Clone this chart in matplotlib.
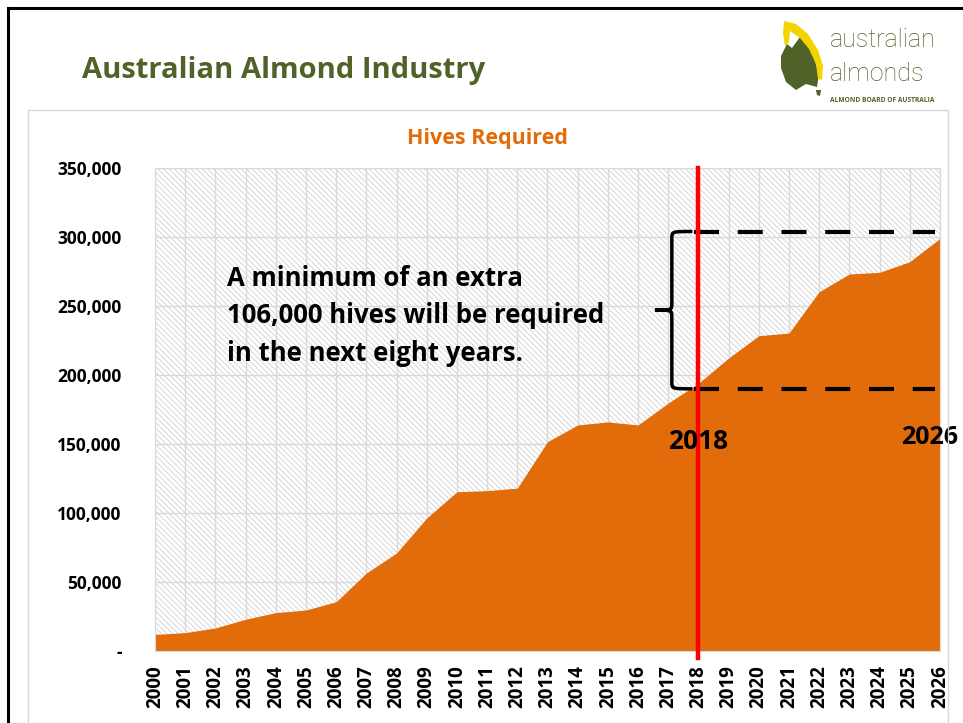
import numpy as np
import matplotlib
matplotlib.use("Agg")
import matplotlib.pyplot as plt
from matplotlib.patches import Rectangle, PathPatch, Polygon
from matplotlib.path import Path
from matplotlib.lines import Line2D

years = list(range(2000, 2027))
hives = [12000, 13300, 16700, 23000, 27800, 29700, 35700, 56500, 71000, 96400,
         115400, 116200, 118000, 151700, 163800, 166000, 163800, 179700, 194000,
         212300, 228500, 230400, 260400, 273200, 274400, 282100, 299000]
yticks = [0, 50000, 100000, 150000, 200000, 250000, 300000, 350000]
ytick_labels = ['-', '50,000', '100,000', '150,000', '200,000', '250,000', '300,000', '350,000']
low_level = 190000
high_level = 304000
note = "A minimum of an extra\n106,000 hives will be required\nin the next eight years."

plt.rcParams['font.family'] = ['Open Sans', 'DejaVu Sans']
plt.rcParams['hatch.linewidth'] = 0.6

orange = '#E36C0A'
green = '#4F6228'
grid_c = '#d9d9d9'

W, H = 963.0, 723.0
def px(pts):
    # pixel coords (from top-left) to figure fraction
    return [[x / W, 1 - y / H] for x, y in pts]

fig = plt.figure(figsize=(9.63, 7.23), dpi=100)

# slide frame and chart frame
fig.add_artist(Line2D([0.0083, 0.0083], [0, 0.989], color='black', lw=2.2))
fig.add_artist(Line2D([0.0083, 1.0], [0.989, 0.989], color='black', lw=2.2))
fig.add_artist(Rectangle((0.029, -0.01), 0.955, 0.858, fill=False, ec=grid_c, lw=1))

fig.text(0.085, 0.903, "Australian Almond Industry", color=green, fontsize=21,
         fontweight='bold', ha='left', va='center')

# logo (approximation)
fig.add_artist(Polygon(px([(781, 56), (787, 44), (792, 48), (800, 37), (808, 44), (814, 58),
                           (819, 74), (817, 87), (806, 84), (796, 90), (786, 82), (781, 68)]),
                       closed=True, fc=green, ec='none'))
fig.add_artist(Polygon(px([(816, 90), (821, 90), (820, 96), (817, 95)]),
                       closed=True, fc=green, ec='none'))
fig.add_artist(Polygon(px([(784, 21), (796, 24), (808, 34), (818, 50), (823, 66), (822, 80),
                           (818, 79), (816, 64), (809, 49), (800, 38), (790, 31), (789, 42),
                           (785, 46), (783, 34)]),
                       closed=True, fc='#F2D500', ec='none'))
fig.text(0.862, 0.944, "australian", color=green, fontsize=18, ha='left', va='center',
         family=['Roboto', 'DejaVu Sans'], fontweight='light')
fig.text(0.862, 0.898, "almonds", color=green, fontsize=18, ha='left', va='center',
         family=['Roboto', 'DejaVu Sans'], fontweight='light')
fig.text(0.862, 0.861, "ALMOND BOARD OF AUSTRALIA", color=green, fontsize=4.8,
         ha='left', va='center', fontweight='bold')

fig.text(0.506, 0.809, "Hives Required", color=orange, fontsize=15.5, fontweight='bold',
         ha='center', va='center')

ax = fig.add_axes([0.161, 0.0996, 0.815, 0.668])
ax.set_xlim(2000, 2026)
ax.set_ylim(0, 350000)
ax.add_patch(Rectangle((2000, 0), 26, 350000, facecolor='white', edgecolor='#cfcfcf',
                       hatch='\\' * 6, lw=0, zorder=0))
for yr in years:
    ax.axvline(yr, color=grid_c, lw=1, zorder=1)
for v in yticks:
    ax.axhline(v, color=grid_c, lw=1, zorder=1)

ax.fill_between(years, hives, 0, color=orange, lw=0, zorder=2)

ax.set_yticks(yticks)
ax.set_yticklabels(ytick_labels, fontsize=12.5, fontweight='bold')
ax.set_xticks(years)
ax.set_xticklabels([str(y) for y in years], rotation=90, fontsize=13.5, fontweight='bold')
ax.tick_params(length=0, axis='y', pad=24)
ax.tick_params(length=0, axis='x', pad=10)
for s in ax.spines.values():
    s.set_color(grid_c)

# 2018 marker
ax.axvline(2018, ymin=-0.015, ymax=1, color='#FF0000', lw=3.2, zorder=5, clip_on=False)

# dashed levels
ax.plot([2017.85, 2025.85], [high_level, high_level], color='black', lw=3,
        dashes=(6, 4.5), zorder=4)
ax.plot([2017.85, 2025.85], [low_level, low_level], color='black', lw=3,
        dashes=(6, 4.5), zorder=4)

# curly brace
xv, xe, xt = 2017.12, 2017.8, 2016.56
ym = (high_level + low_level) / 2
verts = [(xe, high_level), (xv, high_level), (xv, high_level), (xv, high_level - 5000),
         (xv, ym + 5000),
         (xv, ym), (xv, ym), (xt, ym),
         (xv, ym), (xv, ym), (xv, ym - 5000),
         (xv, low_level + 5000),
         (xv, low_level), (xv, low_level), (xe, low_level)]
codes = [Path.MOVETO, Path.CURVE4, Path.CURVE4, Path.CURVE4,
         Path.LINETO,
         Path.CURVE4, Path.CURVE4, Path.CURVE4,
         Path.CURVE4, Path.CURVE4, Path.CURVE4,
         Path.LINETO,
         Path.CURVE4, Path.CURVE4, Path.CURVE4]
ax.add_patch(PathPatch(Path(verts, codes), fill=False, ec='black', lw=2.5, zorder=4))

ax.text(2002.4, 243000, note, fontsize=18.5, fontweight='bold', ha='left', va='center',
        linespacing=1.5, zorder=6)
ax.text(2018.0, 152000, "2018", fontsize=19, fontweight='bold', ha='center', va='center', zorder=6)
ax.text(2024.7, 155000, "2026", fontsize=18, fontweight='bold', ha='left', va='center',
        zorder=6, clip_on=False)

fig.savefig("out.png", dpi=100)
